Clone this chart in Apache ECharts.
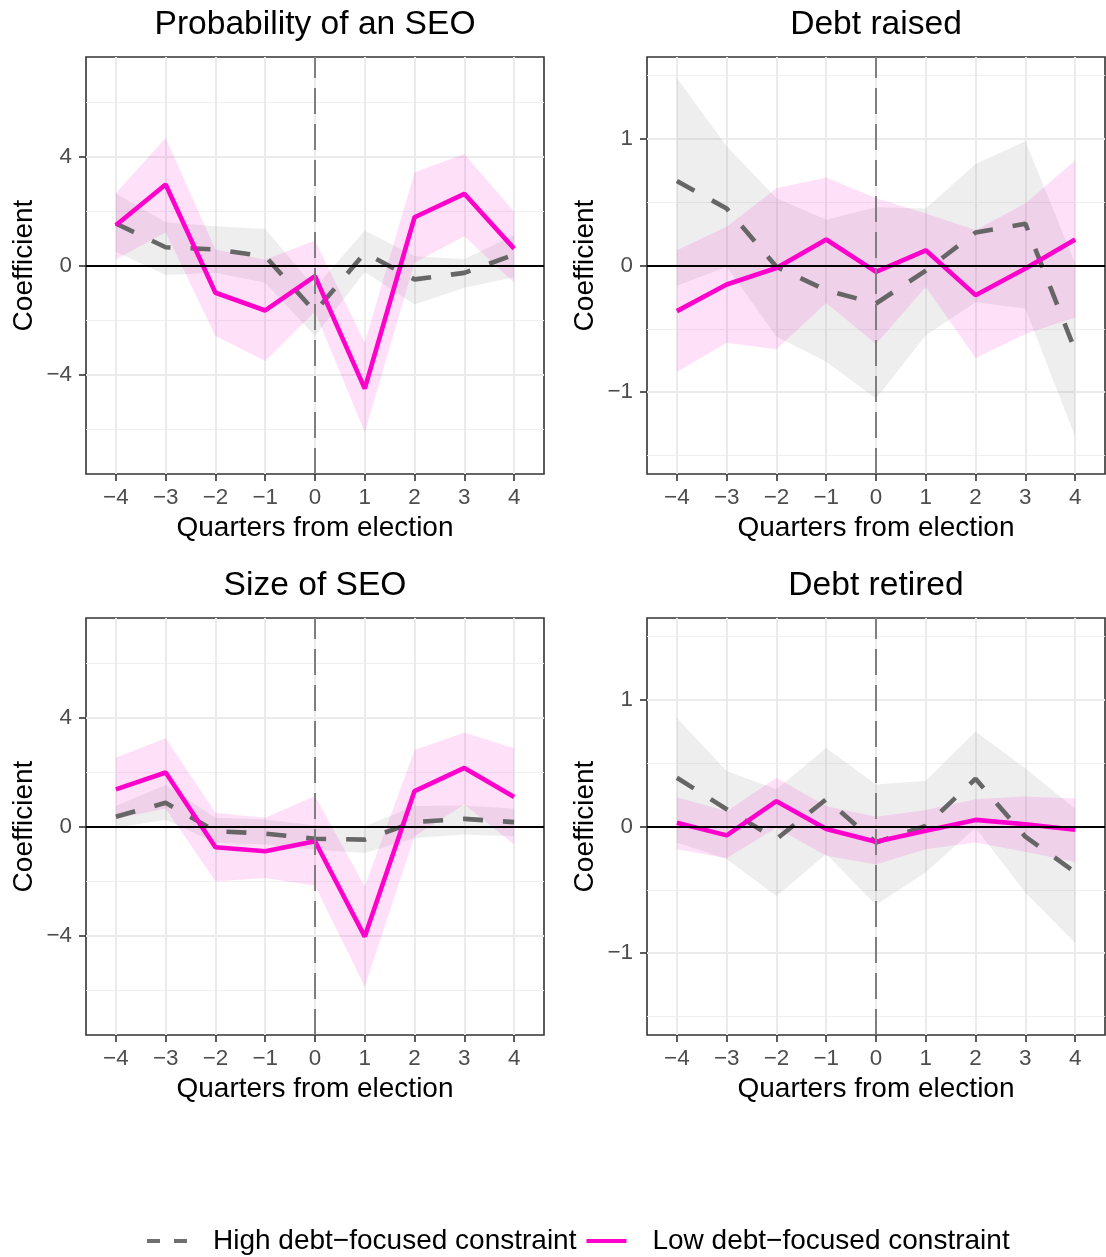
<!DOCTYPE html>
<html><head><meta charset="utf-8">
<script src="https://cdn.jsdelivr.net/npm/echarts@6/dist/echarts.min.js"></script>
<style>html,body{margin:0;padding:0;background:#fff}#chart{width:1106px;height:1257px}</style>
</head><body><div id="chart"></div>
<script>
// ---------- data ----------
const quarters = [-4, -3, -2, -1, 0, 1, 2, 3, 4];
const xTicks = [-4, -3, -2, -1, 0, 1, 2, 3, 4];
const panelTitles = ['Probability of an SEO', 'Debt raised', 'Size of SEO', 'Debt retired'];
const seriesNames = ['High debt\u2212focused constraint', 'Low debt\u2212focused constraint'];
const xAxisTitle = 'Quarters from election';
const yAxisTitle = 'Coefficient';
const yTicksSeo = [-4, 0, 4];
const yMinorSeo = [-6, -2, 2, 6];
const yTicksDebt = [-1, 0, 1];
const yMinorDebt = [-1.5, -0.5, 0.5, 1.5];

// Probability of an SEO
const probHigh   = [1.54, 0.67, 0.59, 0.34, -1.70, 0.46, -0.51, -0.27, 0.40];
const probHighLo = [0.50, -0.35, -0.27, -0.63, -2.59, -0.24, -1.43, -0.82, -0.43];
const probHighHi = [2.64, 1.59, 1.44, 1.34, -0.82, 1.28, 0.34, 0.24, 1.11];
const probLow    = [1.48, 2.97, -1.00, -1.65, -0.39, -4.52, 1.77, 2.63, 0.62];
const probLowLo  = [0.22, 1.22, -2.59, -3.50, -1.70, -6.13, 0.10, 1.07, -0.63];
const probLowHi  = [2.66, 4.68, 0.59, 0.21, 0.92, -2.83, 3.42, 4.09, 1.97];

// Debt raised
const raisedHigh   = [0.666, 0.45, -0.01, -0.195, -0.30, -0.04, 0.26, 0.33, -0.67];
const raisedHighLo = [-0.16, -0.01, -0.56, -0.76, -1.05, -0.55, -0.29, -0.34, -1.35];
const raisedHighHi = [1.48, 0.94, 0.53, 0.36, 0.46, 0.45, 0.80, 0.98, 0.016];
const raisedLow    = [-0.36, -0.15, -0.02, 0.205, -0.05, 0.12, -0.234, -0.024, 0.205];
const raisedLowLo  = [-0.84, -0.61, -0.66, -0.295, -0.62, -0.17, -0.73, -0.54, -0.41];
const raisedLowHi  = [0.12, 0.305, 0.61, 0.695, 0.53, 0.41, 0.28, 0.49, 0.83];

// Size of SEO
const sizeHigh   = [0.36, 0.87, -0.17, -0.26, -0.45, -0.48, 0.16, 0.28, 0.16];
const sizeHighLo = [-0.05, 0.25, -0.60, -0.66, -0.85, -0.97, -0.42, -0.29, -0.36];
const sizeHighHi = [0.75, 1.52, 0.32, 0.26, 0.04, 0.01, 0.75, 0.77, 0.65];
const sizeLow    = [1.36, 1.98, -0.76, -0.91, -0.54, -4.04, 1.30, 2.15, 1.08];
const sizeLowLo  = [0.28, 0.66, -2.01, -1.89, -2.17, -5.88, -0.36, 0.81, -0.66];
const sizeLowHi  = [2.53, 3.24, 0.50, 0.32, 1.12, -2.20, 2.81, 3.45, 2.87];

// Debt retired
const retiredHigh   = [0.385, 0.136, -0.10, 0.215, -0.126, 0.005, 0.377, -0.08, -0.36];
const retiredHighLo = [-0.126, -0.257, -0.55, -0.217, -0.62, -0.36, -0.01, -0.52, -0.92];
const retiredHighHi = [0.856, 0.437, 0.293, 0.62, 0.332, 0.36, 0.75, 0.46, 0.14];
const retiredLow    = [0.03, -0.07, 0.20, -0.02, -0.12, -0.034, 0.052, 0.018, -0.026];
const retiredLowLo  = [-0.18, -0.25, -0.01, -0.23, -0.30, -0.18, -0.126, -0.20, -0.28];
const retiredLowHi  = [0.23, 0.12, 0.385, 0.16, 0.076, 0.13, 0.215, 0.236, 0.22];

// ---------- layout / styling ----------
const FONT = '"Liberation Sans", Arial, Helvetica, sans-serif';
const HIGH_COLOR = '#666666';
const LOW_COLOR = '#FF00CC';
const HIGH_FILL = 'rgba(153,153,153,0.17)';
const LOW_FILL = 'rgba(255,0,204,0.12)';
const LINE_W = 4.6;
const GRID_W = 458, GRID_H = 417;

const panels = [
  { title: panelTitles[0], left: 86,  top: 57,  yLim: 7.65,  ticks: yTicksSeo,  minor: yMinorSeo,
    high: probHigh, highLo: probHighLo, highHi: probHighHi, low: probLow, lowLo: probLowLo, lowHi: probLowHi },
  { title: panelTitles[1], left: 647, top: 57,  yLim: 1.645, ticks: yTicksDebt, minor: yMinorDebt,
    high: raisedHigh, highLo: raisedHighLo, highHi: raisedHighHi, low: raisedLow, lowLo: raisedLowLo, lowHi: raisedLowHi },
  { title: panelTitles[2], left: 86,  top: 618, yLim: 7.65,  ticks: yTicksSeo,  minor: yMinorSeo,
    high: sizeHigh, highLo: sizeHighLo, highHi: sizeHighHi, low: sizeLow, lowLo: sizeLowLo, lowHi: sizeLowHi },
  { title: panelTitles[3], left: 647, top: 618, yLim: 1.645, ticks: yTicksDebt, minor: yMinorDebt,
    high: retiredHigh, highLo: retiredHighLo, highHi: retiredHighHi, low: retiredLow, lowLo: retiredLowLo, lowHi: retiredLowHi }
];

const minusFmt = v => String(v).replace('-', '\u2212');

const option = {
  animation: false,
  backgroundColor: '#ffffff',
  textStyle: { fontFamily: FONT },
  title: [], grid: [], xAxis: [], yAxis: [], series: [],
  legend: {
    data: [
      { name: seriesNames[0], icon: 'path://M0,0h13v4h-13z M27,0h13v4h-13z', itemStyle: { color: '#707070' } },
      { name: seriesNames[1], icon: 'path://M0,0h40v4h-40z', itemStyle: { color: LOW_COLOR } }
    ],
    left: 147, top: 1227, padding: 0, itemWidth: 40, itemHeight: 4, itemGap: 10,
    textStyle: { fontSize: 28, color: '#000', fontFamily: FONT, padding: [0, 0, 0, 21] }
  }
};

function ribbonSeries(i, lo, hi, fill, withMarks) {
  const s = {
    type: 'custom', xAxisIndex: i, yAxisIndex: 2 * i, z: 2, silent: true,
    data: quarters.map((q, k) => [q, lo[k], hi[k]]),
    encode: { x: 0, y: [1, 2] },
    renderItem: (params, api) => {
      if (params.dataIndex !== 0) return null;
      const upper = [], lower = [];
      for (let k = 0; k < quarters.length; k++) {
        upper.push(api.coord([quarters[k], hi[k]]));
        lower.push(api.coord([quarters[k], lo[k]]));
      }
      return { type: 'polygon', shape: { points: upper.concat(lower.reverse()) }, style: { fill: fill } };
    }
  };
  if (withMarks) {
    s.markLine = {
      silent: true, symbol: ['none', 'none'], label: { show: false }, animation: false,
      data: [
        { yAxis: 0, lineStyle: { color: '#000000', width: 2, type: 'solid' } },
        { xAxis: 0, lineStyle: { color: '#7F7F7F', width: 2, type: [26, 10] } }
      ]
    };
  }
  return s;
}

panels.forEach((p, i) => {
  option.title.push({
    text: p.title, left: p.left + GRID_W / 2, top: p.top - 49, textAlign: 'center', padding: 0,
    textStyle: { fontSize: 33.6, fontWeight: 'normal', color: '#000', fontFamily: FONT }
  });
  option.grid.push({
    left: p.left, top: p.top, width: GRID_W, height: GRID_H,
    show: true, borderColor: '#333333', borderWidth: 1.6, backgroundColor: 'transparent'
  });
  option.xAxis.push({
    type: 'value', gridIndex: i, min: -4.6, max: 4.6, position: 'bottom',
    axisLine: { show: false, onZero: false },
    axisTick: { show: true, customValues: xTicks, length: 7, lineStyle: { color: '#333333', width: 1.6 } },
    axisLabel: { customValues: xTicks, formatter: minusFmt, color: '#4D4D4D', fontSize: 22.4, margin: 13, fontFamily: FONT },
    splitLine: { show: true, lineStyle: { color: '#EBEBEB', width: 2 } },
    name: xAxisTitle, nameLocation: 'middle', nameGap: 40,
    nameTextStyle: { fontSize: 28, color: '#000', fontFamily: FONT }
  });
  option.yAxis.push({
    type: 'value', gridIndex: i, min: -p.yLim, max: p.yLim, position: 'left',
    axisLine: { show: false, onZero: false },
    axisTick: { show: true, customValues: p.ticks, length: 7, lineStyle: { color: '#333333', width: 1.6 } },
    axisLabel: { customValues: p.ticks, formatter: minusFmt, color: '#4D4D4D', fontSize: 22.4, margin: 14, fontFamily: FONT },
    splitLine: { show: true, lineStyle: { color: '#EBEBEB', width: 2 } },
    name: yAxisTitle, nameLocation: 'middle', nameGap: 48, nameRotate: 90,
    nameTextStyle: { fontSize: 28, color: '#000', fontFamily: FONT }
  });
  option.yAxis.push({
    type: 'value', gridIndex: i, min: -p.yLim, max: p.yLim, position: 'left',
    axisLine: { show: false, onZero: false }, axisLabel: { show: false },
    axisTick: { show: false, customValues: p.minor },
    splitLine: { show: true, lineStyle: { color: '#EFEFEF', width: 1 } }
  });
  option.series.push(ribbonSeries(i, p.highLo, p.highHi, HIGH_FILL, true));
  option.series.push(ribbonSeries(i, p.lowLo, p.lowHi, LOW_FILL, false));
  option.series.push({
    name: seriesNames[0], type: 'line', xAxisIndex: i, yAxisIndex: 2 * i, z: 3,
    data: quarters.map((q, k) => [q, p.high[k]]),
    symbol: 'none', showSymbol: false,
    lineStyle: { color: HIGH_COLOR, width: LINE_W, type: [20, 20] }, itemStyle: { color: HIGH_COLOR }
  });
  option.series.push({
    name: seriesNames[1], type: 'line', xAxisIndex: i, yAxisIndex: 2 * i, z: 4,
    data: quarters.map((q, k) => [q, p.low[k]]),
    symbol: 'none', showSymbol: false,
    lineStyle: { color: LOW_COLOR, width: LINE_W }, itemStyle: { color: LOW_COLOR }
  });
});

const chart = echarts.init(document.getElementById('chart'), null, { renderer: 'canvas' });
chart.setOption(option);
</script>
</body></html>
